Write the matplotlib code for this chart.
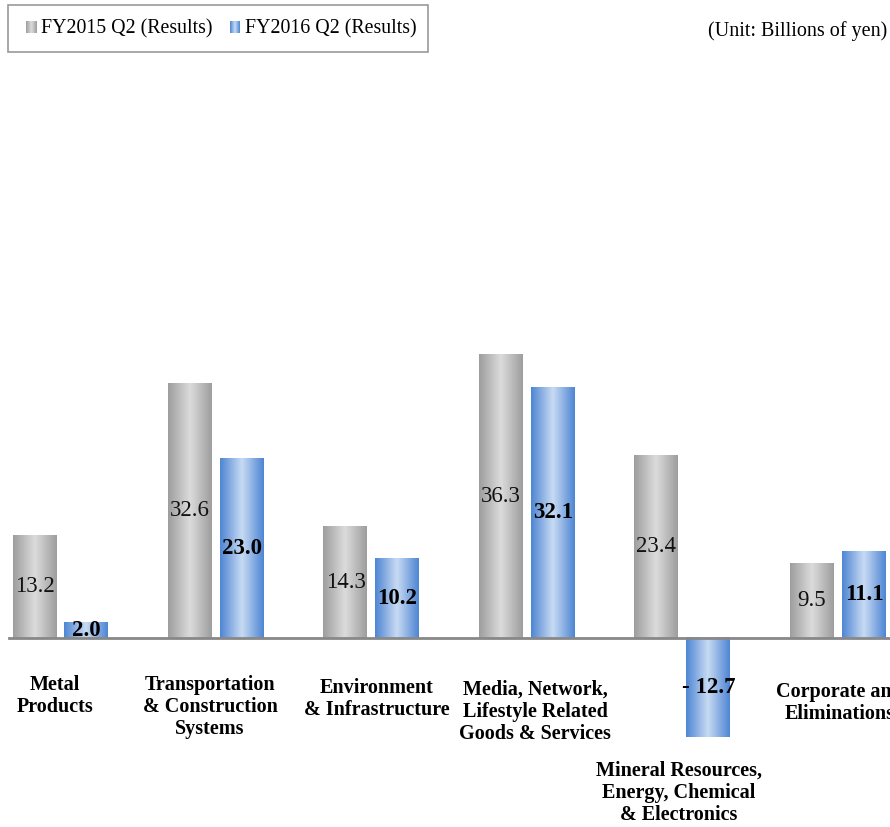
import numpy as np
import matplotlib
matplotlib.use('Agg')
import matplotlib.pyplot as plt
from matplotlib.colors import LinearSegmentedColormap
from matplotlib.patches import Rectangle

# data (billions of yen)
categories = ['Metal\nProducts',
              'Transportation\n& Construction\nSystems',
              'Environment\n& Infrastructure',
              'Media, Network,\nLifestyle Related\nGoods & Services',
              'Mineral Resources,\nEnergy, Chemical\n& Electronics',
              'Corporate and\nEliminations']
fy2015 = [13.2, 32.6, 14.3, 36.3, 23.4, 9.5]
fy2016 = [2.0, 23.0, 10.2, 32.1, -12.7, 11.1]
series_names = ['FY2015 Q2 (Results)', 'FY2016 Q2 (Results)']

W, H = 890, 827
fig = plt.figure(figsize=(W / 100, H / 100), dpi=100)
ax = fig.add_axes([0, 0, 1, 1])
ax.set_axis_off()

# pixel layout -> data limits
base_px, px_per_unit = 638, 7.8
grp0, grp_step = 60.5, 155.5
ax.set_xlim(-grp0 / grp_step, (W - grp0) / grp_step)
ax.set_ylim(-(H - base_px) / px_per_unit, base_px / px_per_unit)

gray_cmap = LinearSegmentedColormap.from_list('g', ['#9e9e9e', '#dcdcdc', '#9e9e9e'])
blue_cmap = LinearSegmentedColormap.from_list('b', ['#4f86d4', '#c8dbf3', '#4f86d4'])
grad = np.linspace(0, 1, 64).reshape(1, -1)

x = np.arange(len(categories))
bw = 44 / grp_step
off = 26 / grp_step
bars1 = ax.bar(x - off, fy2015, bw, color='none', edgecolor='none')
bars2 = ax.bar(x + off, fy2016, bw, color='none', edgecolor='none')


def fill_gradient(bars, cmap):
    for b in bars:
        x0, y0, w, h = b.get_x(), b.get_y(), b.get_width(), b.get_height()
        ax.imshow(grad, cmap=cmap, aspect='auto', extent=(x0, x0 + w, y0, y0 + h),
                  interpolation='bicubic', zorder=1)


fill_gradient(bars1, gray_cmap)
fill_gradient(bars2, blue_cmap)

# baseline
ax.plot([-52 / grp_step, ax.get_xlim()[1]], [0, 0], color='#888888', lw=2, zorder=2)

serif = ['Liberation Serif', 'DejaVu Serif']
for b, v in zip(bars1, fy2015):
    ax.text(b.get_x() + b.get_width() / 2, v / 2, f'{v:.1f}', ha='center', va='center',
            fontsize=16.5, family=serif, color='#111111', zorder=3)
for b, v in zip(bars2, fy2016):
    s = f'{v:.1f}' if v >= 0 else f'- {abs(v):.1f}'
    ax.text(b.get_x() + b.get_width() / 2, v / 2, s, ha='center', va='center',
            fontsize=16.5, family=serif, fontweight='bold', color='black', zorder=3)

# category labels (pixel centre of each text block)
label_px = [(55, 696), (210, 707), (377, 699), (535, 712), (679, 793), (840, 703)]
for lab, (px, py) in zip(categories, label_px):
    fig.text(px / W, 1 - py / H, lab, ha='center', va='center', fontsize=14.5,
             fontweight='bold', family=serif, linespacing=1.14)

# legend
fig.patches.append(Rectangle((8 / W, 1 - 52 / H), 420 / W, 47 / H, transform=fig.transFigure,
                             facecolor='none', edgecolor='#999999', lw=1.2))
for i, (name, cm) in enumerate(zip(series_names, [gray_cmap, blue_cmap])):
    sx = [26, 230][i]
    iax = fig.add_axes([sx / W, 1 - 33 / H, 10 / W, 12 / H])
    iax.imshow(grad, cmap=cm, aspect='auto')
    iax.set_axis_off()
    fig.text((sx + 15) / W, 1 - 29 / H, name, ha='left', va='center', fontsize=14.3, family=serif)

fig.text(708 / W, 1 - 31 / H, '(Unit: Billions of yen)', ha='left', va='center',
         fontsize=14.5, family=serif)

fig.savefig('out.png', dpi=100)
